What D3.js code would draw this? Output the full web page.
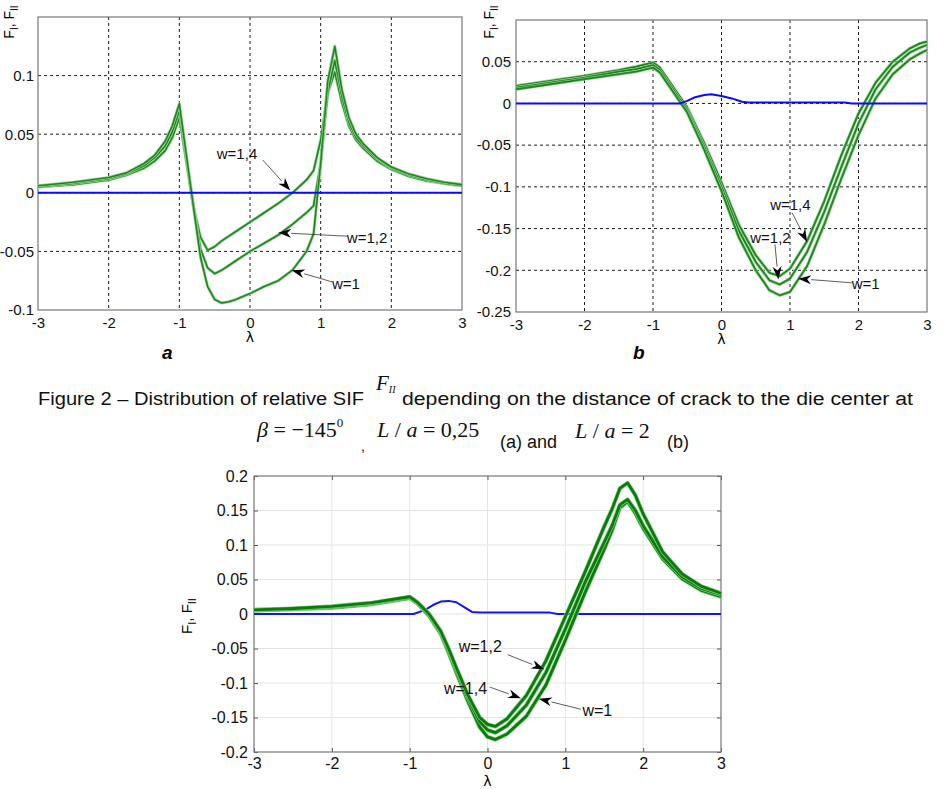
<!DOCTYPE html>
<html>
<head>
<meta charset="utf-8">
<script src="https://cdn.jsdelivr.net/npm/d3@7"></script>
<style>
  body { margin: 0; background: #fff; }
  svg { display: block; font-family: "Liberation Sans", Arial, sans-serif; }
</style>
</head>
<body>
<script>
/* jshint browser:true */
// ---- shared ticks
var xTicks = [-3, -2, -1, 0, 1, 2, 3];
var yTicksA = [-0.1, -0.05, 0, 0.05, 0.1];
var yTicksB = [-0.25, -0.2, -0.15, -0.1, -0.05, 0, 0.05];
var yTicksC = [-0.2, -0.15, -0.1, -0.05, 0, 0.05, 0.1, 0.15, 0.2];

// ---- panel a  (L/a = 0,25)
var lamA = [-3, -2.5, -2, -1.75, -1.5, -1.35, -1.2, -1.1, -1, -0.9, -0.8, -0.7, -0.6, -0.5,
  -0.4, -0.3, -0.2, 0, 0.2, 0.4, 0.6, 0.8, 0.9, 1, 1.1, 1.2, 1.3, 1.4, 1.5, 1.6, 1.8, 2,
  2.25, 2.5, 2.75, 3];
var aW1 = [0.006, 0.009, 0.013, 0.017, 0.025, 0.032, 0.044, 0.057, 0.076, 0.032, -0.012,
  -0.055, -0.080, -0.091, -0.094, -0.093, -0.091, -0.086, -0.080, -0.075, -0.066, -0.050,
  -0.035, 0.025, 0.095, 0.125, 0.088, 0.064, 0.050, 0.042, 0.030, 0.022, 0.016, 0.012,
  0.009, 0.007];
var aW12 = [0.005, 0.008, 0.012, 0.016, 0.023, 0.030, 0.040, 0.052, 0.070, 0.029, -0.012,
  -0.048, -0.064, -0.069, -0.066, -0.062, -0.058, -0.050, -0.043, -0.036, -0.027, -0.017,
  -0.011, 0.025, 0.085, 0.113, 0.082, 0.060, 0.047, 0.040, 0.029, 0.021, 0.015, 0.011,
  0.008, 0.006];
var aW14 = [0.005, 0.007, 0.011, 0.015, 0.021, 0.027, 0.036, 0.047, 0.064, 0.026, -0.012,
  -0.038, -0.049, -0.046, -0.041, -0.037, -0.033, -0.025, -0.017, -0.009, 0.000, 0.011,
  0.019, 0.045, 0.085, 0.103, 0.077, 0.057, 0.045, 0.038, 0.027, 0.020, 0.014, 0.010,
  0.008, 0.006];
var lamBlueA = [-3, 3];
var blueA = [0, 0];

// ---- panel b  (L/a = 2)
var lamB = [-3, -2.5, -2, -1.5, -1.25, -1, -0.9, -0.75, -0.5, -0.25, 0, 0.25, 0.5, 0.7,
  0.85, 1, 1.25, 1.5, 1.75, 2, 2.25, 2.5, 2.75, 2.9, 3];
var bW1 = [0.017, 0.023, 0.029, 0.035, 0.038, 0.043, 0.037, 0.019, -0.011, -0.056, -0.105,
  -0.160, -0.200, -0.224, -0.230, -0.226, -0.195, -0.145, -0.090, -0.038, 0.006, 0.035,
  0.053, 0.060, 0.064];
var bW12 = [0.019, 0.025, 0.031, 0.038, 0.041, 0.046, 0.040, 0.022, -0.008, -0.052, -0.100,
  -0.152, -0.190, -0.212, -0.217, -0.210, -0.178, -0.130, -0.076, -0.024, 0.017, 0.044,
  0.061, 0.067, 0.070];
var bW14 = [0.021, 0.027, 0.033, 0.040, 0.044, 0.049, 0.043, 0.025, -0.005, -0.048, -0.095,
  -0.145, -0.182, -0.203, -0.207, -0.198, -0.165, -0.117, -0.062, -0.012, 0.025, 0.050,
  0.066, 0.072, 0.074];
var lamBlueB = [-3, -0.6, -0.5, -0.4, -0.25, -0.15, 0, 0.15, 0.3, 0.4, 1.8, 1.9, 3];
var blueB = [0, 0, 0.003, 0.007, 0.010, 0.011, 0.009, 0.006, 0.002, 0.001, 0.001, 0, 0];

// ---- lower panel
var lamC = [-3, -2.5, -2, -1.5, -1, -0.9, -0.75, -0.6, -0.5, -0.4, -0.25, -0.1, 0, 0.1,
  0.25, 0.5, 0.75, 1, 1.25, 1.5, 1.6, 1.7, 1.8, 1.9, 2, 2.25, 2.5, 2.75, 3];
var cW12 = [0.006, 0.008, 0.011, 0.016, 0.025, 0.017, 0.000, -0.025, -0.050, -0.078,
  -0.118, -0.150, -0.160, -0.163, -0.152, -0.118, -0.068, -0.004, 0.060, 0.127, 0.152,
  0.182, 0.190, 0.172, 0.145, 0.090, 0.058, 0.040, 0.030];
var cW14 = [0.006, 0.007, 0.010, 0.015, 0.024, 0.016, -0.002, -0.027, -0.053, -0.081,
  -0.122, -0.156, -0.168, -0.172, -0.162, -0.132, -0.085, -0.022, 0.045, 0.104, 0.128,
  0.158, 0.166, 0.150, 0.128, 0.083, 0.054, 0.037, 0.028];
var cW1 = [0.005, 0.007, 0.009, 0.014, 0.023, 0.015, -0.003, -0.029, -0.056, -0.085,
  -0.127, -0.164, -0.178, -0.182, -0.174, -0.148, -0.103, -0.038, 0.030, 0.094, 0.121,
  0.154, 0.163, 0.146, 0.124, 0.080, 0.051, 0.034, 0.025];
var lamBlueC = [-3, -0.95, -0.8, -0.7, -0.6, -0.5, -0.4, -0.3, -0.2, -0.1, 0.8, 0.9, 3];
var blueC = [0, 0, 0.006, 0.013, 0.018, 0.019, 0.017, 0.010, 0.003, 0.002, 0.002, 0, 0];

// ---- annotations, in data units: label start, arrow tail, arrow head
var annoA = [
  { text: 'w=1,4', at: [-0.47, 0.029], from: [0.18, 0.028], to: [0.57, 0.002] },
  { text: 'w=1,2', at: [1.37, -0.043], from: [1.37, -0.037], to: [0.40, -0.034] },
  { text: 'w=1',   at: [1.16, -0.082], from: [1.16, -0.076], to: [0.59, -0.066] }
];
var annoB = [
  { text: 'w=1,4', at: [0.71, -0.128], from: [1.03, -0.131], to: [1.25, -0.166] },
  { text: 'w=1,2', at: [0.42, -0.167], from: [0.78, -0.169], to: [0.83, -0.211] },
  { text: 'w=1',   at: [1.90, -0.222], from: [1.90, -0.215], to: [1.12, -0.210] }
];
var annoC = [
  { text: 'w=1,2', at: [-0.37, -0.055], from: [0.26, -0.059], to: [0.73, -0.080] },
  { text: 'w=1,4', at: [-0.56, -0.116], from: [0.03, -0.106], to: [0.43, -0.122] },
  { text: 'w=1',   at: [1.22, -0.148], from: [1.20, -0.138], to: [0.66, -0.123] }
];

var svg = d3.select('body').append('svg')
    .attr('width', 944)
    .attr('height', 789);

function drawArrow(g, x, y, a, fontSize) {
  'use strict';
  var x0 = x(a.from[0]), y0 = y(a.from[1]),
      x1 = x(a.to[0]),   y1 = y(a.to[1]),
      ang = Math.atan2(y1 - y0, x1 - x0),
      L = 13, W = 4.5,
      bx = x1 - L * Math.cos(ang),
      by = y1 - L * Math.sin(ang),
      nx = x1 - (L - 4) * Math.cos(ang),
      ny = y1 - (L - 4) * Math.sin(ang);

  g.append('line')
      .attr('x1', x0).attr('y1', y0).attr('x2', bx).attr('y2', by)
      .style('stroke', '#333').style('stroke-width', 0.8);

  g.append('path')
      .attr('d', 'M' + x1 + ',' + y1 +
        ' L' + (bx + W * Math.sin(ang)) + ',' + (by - W * Math.cos(ang)) +
        ' L' + nx + ',' + ny +
        ' L' + (bx - W * Math.sin(ang)) + ',' + (by + W * Math.cos(ang)) + ' Z')
      .style('fill', '#000');

  g.append('text')
      .attr('x', x(a.at[0]))
      .attr('y', y(a.at[1]))
      .style('font-size', fontSize + 'px')
      .style('fill', '#111')
      .text(a.text);
}

function drawCurve(g, x, y, lam, vals, color, width, halo) {
  'use strict';
  var line = d3.line()
      .x(function (d, i) { return x(lam[i]); })
      .y(function (d) { return y(d); });
  if (halo) {
    g.append('path').attr('d', line(vals))
        .style('fill', 'none').style('stroke', halo)
        .style('stroke-width', width + 1.4).style('stroke-linejoin', 'round');
  }
  g.append('path').attr('d', line(vals))
      .style('fill', 'none').style('stroke', color)
      .style('stroke-width', width).style('stroke-linejoin', 'round');
}

function Panel(p) {
  'use strict';
  var panel = {}, g, gx, gy, inside;

  panel.x = d3.scaleLinear().domain([-3, 3]).range([p.left, p.right]);
  panel.y = d3.scaleLinear().domain(p.yDomain).range([p.bottom, p.top]);
  g = svg.append('g');
  panel.g = g;

  inside = p.yTicks.filter(function (v) {
    return v > p.yDomain[0] && v < p.yDomain[1];
  });

  // grid
  g.selectAll('line.gx').data(xTicks.slice(1, -1)).enter().append('line')
      .attr('class', 'gx')
      .attr('x1', panel.x).attr('x2', panel.x)
      .attr('y1', p.top).attr('y2', p.bottom)
      .style('stroke', p.gridColor).style('stroke-width', p.gridWidth)
      .style('stroke-dasharray', p.gridDash);
  g.selectAll('line.gy').data(inside).enter().append('line')
      .attr('class', 'gy')
      .attr('y1', panel.y).attr('y2', panel.y)
      .attr('x1', p.left).attr('x2', p.right)
      .style('stroke', p.gridColor).style('stroke-width', p.gridWidth)
      .style('stroke-dasharray', p.gridDash);

  // tick labels
  gx = g.append('g')
      .attr('transform', 'translate(0,' + p.bottom + ')')
      .call(d3.axisBottom(panel.x).tickValues(xTicks).tickFormat(String)
        .tickSize(p.tick).tickPadding(p.xPad));
  gy = g.append('g')
      .attr('transform', 'translate(' + p.left + ',0)')
      .call(d3.axisLeft(panel.y).tickValues(p.yTicks).tickFormat(String)
        .tickSize(p.tick).tickPadding(p.yPad));
  [gx, gy].forEach(function (a) {
    a.select('.domain').remove();
    a.attr('font-family', null).attr('font-size', null);
    a.selectAll('text').style('font-size', p.fontSize + 'px').style('fill', '#111');
    a.selectAll('line').style('stroke', '#555');
  });

  if (p.tick < 0) {
    g.append('g').attr('transform', 'translate(0,' + p.top + ')')
        .call(d3.axisTop(panel.x).tickValues(xTicks).tickFormat('').tickSize(p.tick))
        .call(function (s) { s.select('.domain').remove(); s.selectAll('line').style('stroke', '#555'); });
    g.append('g').attr('transform', 'translate(' + p.right + ',0)')
        .call(d3.axisRight(panel.y).tickValues(p.yTicks).tickFormat('').tickSize(p.tick))
        .call(function (s) { s.select('.domain').remove(); s.selectAll('line').style('stroke', '#555'); });
  }

  // frame
  g.append('rect')
      .attr('x', p.left).attr('y', p.top)
      .attr('width', p.right - p.left).attr('height', p.bottom - p.top)
      .style('fill', 'none').style('stroke', '#777').style('stroke-width', 1.2);

  // x title
  g.append('text')
      .attr('x', panel.x(0)).attr('y', p.lamY)
      .attr('text-anchor', 'middle')
      .style('font-family', '"DejaVu Sans", sans-serif')
      .style('font-size', '14px')
      .text('λ');

  return panel;
}

function yTitle(x0, y0, size, sub1, sub2) {
  'use strict';
  var t = svg.append('text')
      .attr('transform', 'translate(' + x0 + ',' + y0 + ') rotate(-90)')
      .attr('text-anchor', 'middle')
      .style('font-size', size + 'px');
  t.append('tspan').text('F');
  t.append('tspan').attr('dy', 4).style('font-size', (size - 4) + 'px').text(sub1);
  t.append('tspan').attr('dy', -4).text(', F');
  t.append('tspan').attr('dy', 4).style('font-size', (size - 4) + 'px').text(sub2);
}

// ---------- panel a
var pa = Panel({
  left: 38, right: 462, top: 17, bottom: 310, yDomain: [-0.1, 0.15], yTicks: yTicksA,
  gridColor: '#000', gridWidth: 0.9, gridDash: '3,3', tick: 0, xPad: 7, yPad: 4,
  fontSize: 15, lamY: 342
});
[aW14, aW12, aW1].forEach(function (s) {
  drawCurve(pa.g, pa.x, pa.y, lamA, s, '#1f861f', 1.6, '#9ad49a');
});
drawCurve(pa.g, pa.x, pa.y, lamBlueA, blueA, '#0a0aff', 2);
annoA.forEach(function (a) { drawArrow(pa.g, pa.x, pa.y, a, 15); });
yTitle(14, 22, 14, 'I', 'II');
svg.append('text').attr('x', 162).attr('y', 359)
    .style('font-size', '19px').style('font-weight', 'bold').style('font-style', 'italic')
    .text('a');

// ---------- panel b
var pb = Panel({
  left: 516, right: 927, top: 20, bottom: 312, yDomain: [-0.25, 0.1], yTicks: yTicksB,
  gridColor: '#000', gridWidth: 0.9, gridDash: '3,3', tick: 0, xPad: 7, yPad: 5,
  fontSize: 15, lamY: 344
});
[bW14, bW12, bW1].forEach(function (s) {
  drawCurve(pb.g, pb.x, pb.y, lamB, s, '#1f861f', 1.8, '#9ad49a');
});
drawCurve(pb.g, pb.x, pb.y, lamBlueB, blueB, '#0a0aff', 2);
annoB.forEach(function (a) { drawArrow(pb.g, pb.x, pb.y, a, 15); });
yTitle(494, 22, 14, 'I', 'II');
svg.append('text').attr('x', 633).attr('y', 359)
    .style('font-size', '19px').style('font-weight', 'bold').style('font-style', 'italic')
    .text('b');

// ---------- caption
var cap1 = svg.append('g').style('fill', '#111');
cap1.append('text').attr('x', 38).attr('y', 405)
    .attr('textLength', 326).attr('lengthAdjust', 'spacingAndGlyphs')
    .style('font-size', '18px')
    .text('Figure 2 \u2013 Distribution of relative SIF');
var fii = cap1.append('text').attr('x', 376).attr('y', 390)
    .style('font-family', '"Liberation Serif", serif').style('font-style', 'italic')
    .style('font-size', '21px');
fii.append('tspan').text('F');
fii.append('tspan').attr('dy', 3).style('font-size', '10px').text('II');
cap1.append('text').attr('x', 402).attr('y', 405)
    .attr('textLength', 511).attr('lengthAdjust', 'spacingAndGlyphs')
    .style('font-size', '18px')
    .text('depending on the distance of crack to the die center at');

var serif = function (x0, y0) {
  return cap1.append('text').attr('x', x0).attr('y', y0)
      .style('font-family', '"Liberation Serif", serif').style('font-size', '22px');
};
var m1 = serif(257, 437);
m1.append('tspan').style('font-style', 'italic').text('\u03b2');
m1.append('tspan').text(' = \u2212145');
m1.append('tspan').attr('dy', -10).style('font-size', '13px').text('0');
cap1.append('text').attr('x', 361).attr('y', 451).style('font-size', '14px').text(',');
var m2 = serif(377, 437);
m2.append('tspan').style('font-style', 'italic').text('L');
m2.append('tspan').text(' / ');
m2.append('tspan').style('font-style', 'italic').text('a');
m2.append('tspan').text(' = 0,25');
cap1.append('text').attr('x', 500).attr('y', 448).style('font-size', '18px').text('(a) and');
var m3 = serif(575, 438);
m3.append('tspan').style('font-style', 'italic').text('L');
m3.append('tspan').text(' / ');
m3.append('tspan').style('font-style', 'italic').text('a');
m3.append('tspan').text(' = 2');
cap1.append('text').attr('x', 667).attr('y', 448).style('font-size', '18px').text('(b)');

// ---------- lower panel
var pc = Panel({
  left: 254, right: 721, top: 476, bottom: 752, yDomain: [-0.2, 0.2], yTicks: yTicksC,
  gridColor: '#e4e4e4', gridWidth: 1, gridDash: null, tick: -4, xPad: 6, yPad: 6,
  fontSize: 16, lamY: 786
});
drawCurve(pc.g, pc.x, pc.y, lamBlueC, blueC, '#1414f0', 2);
[cW1, cW14, cW12].forEach(function (s) {
  drawCurve(pc.g, pc.x, pc.y, lamC, s, '#0d7a0d', 2.8, '#7fd07f');
});
annoC.forEach(function (a) { drawArrow(pc.g, pc.x, pc.y, a, 16); });
yTitle(192, 616, 15, 'I', 'II');
</script>
</body>
</html>
